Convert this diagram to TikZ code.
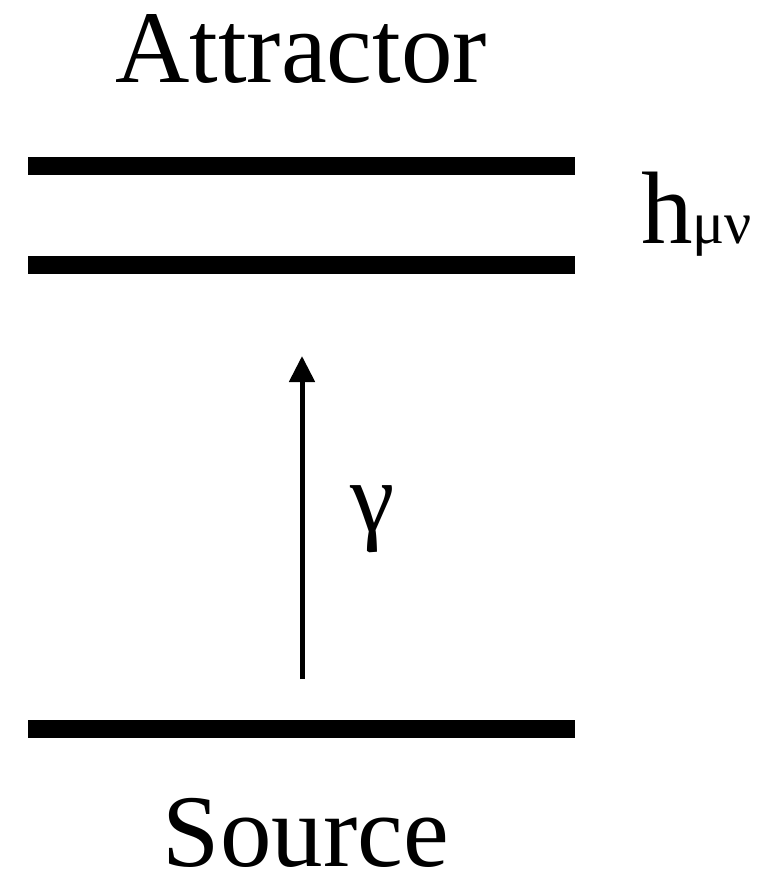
\documentclass[tikz,border=0pt]{standalone}
\usepackage{fontspec}
\setmainfont{Liberation Serif}
\usetikzlibrary{arrows.meta}
\begin{document}
\begin{tikzpicture}[x=1pt,y=1pt,
  plate/.style={line width=18.5pt},
  ray/.style={line width=5pt,-{Triangle[width=25pt,length=26pt]}},
  big/.style={inner sep=0pt,font=\fontsize{103}{110}\selectfont},
  lbl/.style={inner sep=0pt,font=\fontsize{100}{110}\selectfont}]
\useasboundingbox (0,0) rectangle (765,-888);
\coordinate (a1) at (28,-166); \coordinate (a2) at (575,-166);
\coordinate (b1) at (28,-265); \coordinate (b2) at (575,-265);
\coordinate (s1) at (28,-729); \coordinate (s2) at (575,-729);
\draw[plate] (a1) -- (a2);
\draw[plate] (b1) -- (b2);
\draw[plate] (s1) -- (s2);
\coordinate (rayS) at (302,-679);
\coordinate (rayE) at (302,-356);
\draw[ray] (rayS) -- (rayE);
\node[big,anchor=base] (attr) at (301,-83) {Attractor};
\node[big,anchor=base] (src) at (306,-866) {Source};
\node[lbl,anchor=base] (gam) at (373,-531) {γ};
\node[big,anchor=base west] (h) at (641,-243) {h{\fontsize{60}{66}\selectfont μν}};
\end{tikzpicture}
\end{document}
